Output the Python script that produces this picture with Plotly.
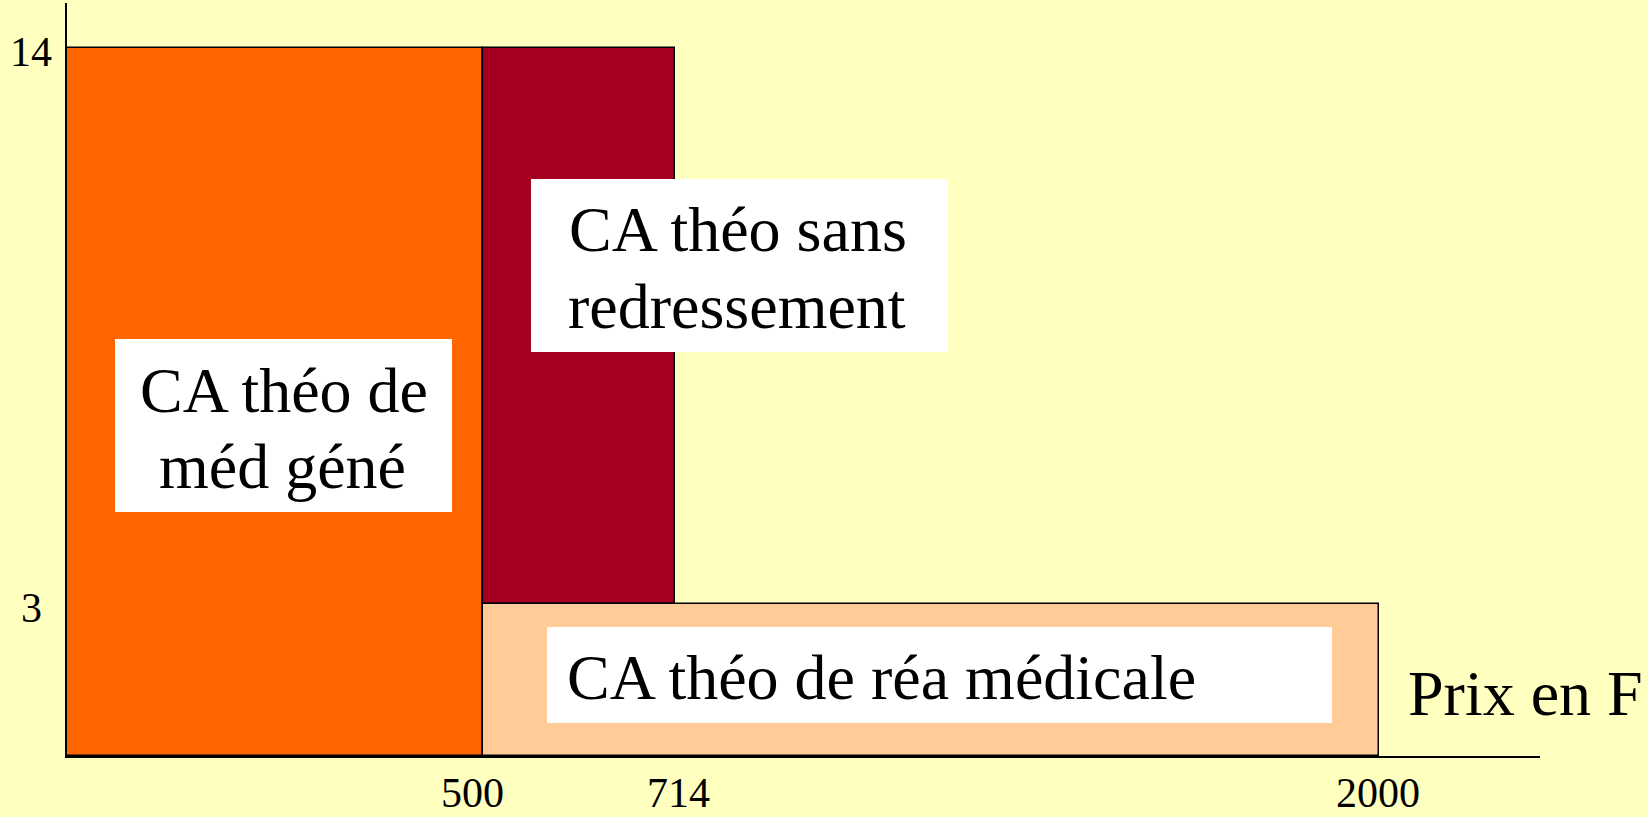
import plotly.graph_objects as go

# ---------------- data ----------------
# price boundaries (F) of the three zones, and their heights
prix_bornes = [0, 500, 714, 2000]
prix_labels = ["500", "714", "2000"]
hauteurs_labels = ["14", "3"]
hauteur_haute = 14
hauteur_basse = 3
# the diagram is not to scale on the price axis: schematic positions of the boundaries
position_schema = [0, 500, 731, 1577]

zones = ["CA théo de méd géné", "CA théo sans redressement", "CA théo de réa médicale"]
zone_x0 = [position_schema[0], position_schema[1], position_schema[1]]
zone_x1 = [position_schema[1], position_schema[2], position_schema[3]]
zone_base = [0, hauteur_basse, 0]
zone_top = [hauteur_haute, hauteur_haute, hauteur_basse]
zone_colors = ["#FF6600", "#A50021", "#FFCC99"]

# ---------------- layout / style ----------------
W, H = 1648, 817
L, R, T, B = 67, 108, 3, 61
PW, PH = W - L - R, H - T - B
BG = "#FFFFC0"
FONT = "Liberation Serif, Times New Roman, serif"
X_MAX = 1770
Y_MAX = 14.9


def px_x(px):
    return (px - L) / PW


def px_y(py):
    return (H - B - py) / PH


fig = go.Figure()
for name, x0, x1, b, t, c in zip(zones, zone_x0, zone_x1, zone_base, zone_top, zone_colors):
    fig.add_trace(go.Bar(
        x=[(x0 + x1) / 2], width=[x1 - x0], base=[b], y=[t - b],
        marker=dict(color=c, line=dict(color="black", width=1.5)),
        name=name, showlegend=False, hoverinfo="skip",
    ))

# white label boxes (pixel extents)
boxes = [(115, 339, 452, 512), (531, 179, 948, 352), (547, 627, 1332, 723)]
shapes = []
for (x0, y0, x1, y1) in boxes:
    shapes.append(dict(type="rect", xref="paper", yref="paper",
                       x0=px_x(x0), x1=px_x(x1), y0=px_y(y1), y1=px_y(y0),
                       fillcolor="white", line=dict(width=0), layer="above"))

annotations = []
# zone label lines: (text, x px, center y px, anchor)
lines = [
    ("CA théo de", 284, 390, "center"),
    ("méd géné", 282, 466, "center"),
    ("CA théo sans", 738, 230, "center"),
    ("redressement", 737, 306, "center"),
    ("CA théo de réa médicale", 565, 677, "left"),
    ("Prix en F", 1406, 693, "left"),
]
for text, x, y, anc in lines:
    annotations.append(dict(text=text, xref="paper", yref="paper", x=px_x(x), y=px_y(y),
                            xanchor=anc, yanchor="middle", showarrow=False,
                            font=dict(family=FONT, size=64, color="black")))

# x tick labels at price boundaries
x_shift = [-11, 3, -1]
for lab, pos, sh in zip(prix_labels, position_schema[1:], x_shift):
    annotations.append(dict(text=lab, xref="x", yref="paper", x=pos, y=px_y(793),
                            xanchor="center", yanchor="middle", xshift=sh, showarrow=False,
                            font=dict(family=FONT, size=42, color="black")))
# y tick labels
for lab, val in zip(hauteurs_labels, [hauteur_haute, hauteur_basse]):
    annotations.append(dict(text=lab, xref="paper", yref="y", x=px_x(31), y=val,
                            xanchor="center", yanchor="middle", yshift=-4, showarrow=False,
                            font=dict(family=FONT, size=42, color="black")))

fig.update_layout(
    width=W, height=H,
    margin=dict(l=L, r=R, t=T, b=B, pad=0),
    paper_bgcolor=BG, plot_bgcolor=BG,
    barmode="overlay", bargap=0,
    shapes=shapes, annotations=annotations,
    xaxis=dict(range=[0, X_MAX], showgrid=False, zeroline=False, showticklabels=False,
               showline=True, linecolor="black", linewidth=2, ticks="", fixedrange=True),
    yaxis=dict(range=[0, Y_MAX], showgrid=False, zeroline=False, showticklabels=False,
               showline=True, linecolor="black", linewidth=2, ticks="", fixedrange=True),
)

fig.write_html(
    "out.html",
    config={"displayModeBar": False},
    post_script="document.body.style.margin='0';document.body.style.padding='0';"
                "document.body.style.overflow='hidden';"
                "document.body.style.background='" + BG + "';",
)
